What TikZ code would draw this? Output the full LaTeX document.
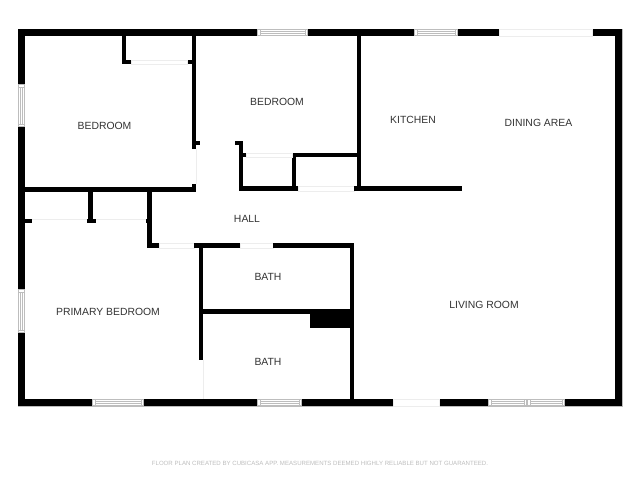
\documentclass[tikz,border=0pt]{standalone}
\usepackage{fontspec}
\setmainfont{Liberation Sans}
\definecolor{labelgray}{HTML}{333333}
\definecolor{footgray}{HTML}{BEBEBE}
\definecolor{framegray}{HTML}{BDBDBD}
\definecolor{openedge}{HTML}{EDEDED}
\tikzset{
  wall/.style={fill=black,draw=none},
  room/.style={font=\fontsize{7.8pt}{9pt}\selectfont,text=labelgray,inner sep=0pt,anchor=center},
  foot/.style={font=\fontsize{4.57pt}{5.5pt}\selectfont,text=footgray,inner sep=0pt,anchor=center},
  faint/.style={draw=openedge,line width=0.5pt},
  glass/.style={fill=white,draw=framegray,line width=0.6pt},
  pane/.style={draw=framegray,line width=0.5pt},
}
% horizontal window x1,x2,y1,y2
\newcommand{\hwin}[4]{%
  \path[glass] (#1+0.5,#3+0.5) rectangle (#2-0.5,#4-0.5);
  \draw[pane] (#1+3,#3+2.2) -- (#2-3,#3+2.2) (#1+3,#4-2.2) -- (#2-3,#4-2.2)
    (#1+3,#3) -- (#1+3,#4) (#2-3,#3) -- (#2-3,#4);}
\newcommand{\vwin}[4]{%
  \path[glass] (#1+0.5,#3+0.5) rectangle (#2-0.5,#4-0.5);
  \draw[pane] (#1+2.2,#3+3) -- (#1+2.2,#4-3) (#2-2.2,#3+3) -- (#2-2.2,#4-3)
    (#1,#3+3) -- (#2,#3+3) (#1,#4-3) -- (#2,#4-3);}
\newcommand{\wl}[4]{\path[wall] (#1,#3) rectangle (#2,#4);}
\newcommand{\gap}[4]{\path[fill=white,draw=openedge,line width=0.5pt] (#1,#3) rectangle (#2,#4);}
\begin{document}
\begin{tikzpicture}[x=0.75pt,y=-0.75pt]
\useasboundingbox (0,0) rectangle (640,480);
\fill[white] (0,0) rectangle (640,480);
% outer walls
\draw[framegray,line width=0.4pt] (18,29) rectangle (622,406);
\wl{18}{622}{29}{36}
\wl{18}{622}{399}{406}
\wl{18}{25}{29}{406}
\wl{615}{622}{29}{406}
% door openings in outer wall
\gap{499}{592}{29}{36}
\gap{393}{439}{399}{406}
% windows
\hwin{257}{308}{29}{36}
\hwin{414}{458}{29}{36}
\vwin{18}{25}{84}{127}
\vwin{18}{25}{289}{333}
\hwin{92}{144}{399}{406}
\hwin{257}{302}{399}{406}
\hwin{488}{527}{399}{406}
\hwin{527}{565}{399}{406}
% upper-left bedroom and closet
\wl{122}{126}{36}{64}
\wl{122}{131}{60}{64}
\wl{187}{192}{60}{64}
\gap{131}{187}{60}{64}
\wl{192}{196}{36}{149}
\wl{196}{200}{141}{145}
\draw[faint] (196,149) -- (196,184);
\wl{192}{196}{184}{192}
\wl{25}{196}{187}{192}
% closets of primary bedroom
\wl{88}{93}{192}{219}
\wl{87}{96}{219}{223}
\wl{25}{32}{219}{223}
\wl{146}{147.5}{219}{223}
\draw[faint] (32,219) -- (87,219) (96,219) -- (146,219);
\wl{147}{152}{192}{248}
\wl{147}{159}{243}{248}
\gap{159}{194}{243}{248}
% bath block
\wl{194}{240}{243}{248}
\gap{240}{273}{243}{248}
\wl{273}{354}{243}{248}
\wl{199}{203}{248}{360}
\draw[faint] (203,360) -- (203,399);
\wl{350}{354}{248}{399}
\wl{203}{350}{309}{314}
\wl{310}{350}{314}{328}
% upper bedroom closets
\wl{357}{361}{36}{187}
\wl{292}{357}{153}{157}
\wl{292}{296}{153}{190}
\wl{239}{298}{186}{191}
\gap{298}{354}{186}{191}
\wl{354}{462}{186}{191}
\wl{239}{243}{141}{191}
\wl{235}{243}{141}{145}
\wl{243}{246}{153}{157}
\gap{246}{292}{153}{157}
% labels
\node[room] (bedroomA) at (104.5,126) {BEDROOM};
\node[room] (bedroomB) at (277,102) {BEDROOM};
\node[room] (kitchen) at (413,119.5) {KITCHEN};
\node[room] (dining) at (538.5,122.5) {DINING AREA};
\node[room] (hall) at (247,218.5) {HALL};
\node[room] (primary) at (108,311.5) {PRIMARY BEDROOM};
\node[room] (bathA) at (268,276.5) {BATH};
\node[room] (bathB) at (268,361.5) {BATH};
\node[room] (living) at (484,304.5) {LIVING ROOM};
\node[foot] (footer) at (320,463.5) {FLOOR PLAN CREATED BY CUBICASA APP. MEASUREMENTS DEEMED HIGHLY RELIABLE BUT NOT GUARANTEED.};
\end{tikzpicture}
\end{document}
